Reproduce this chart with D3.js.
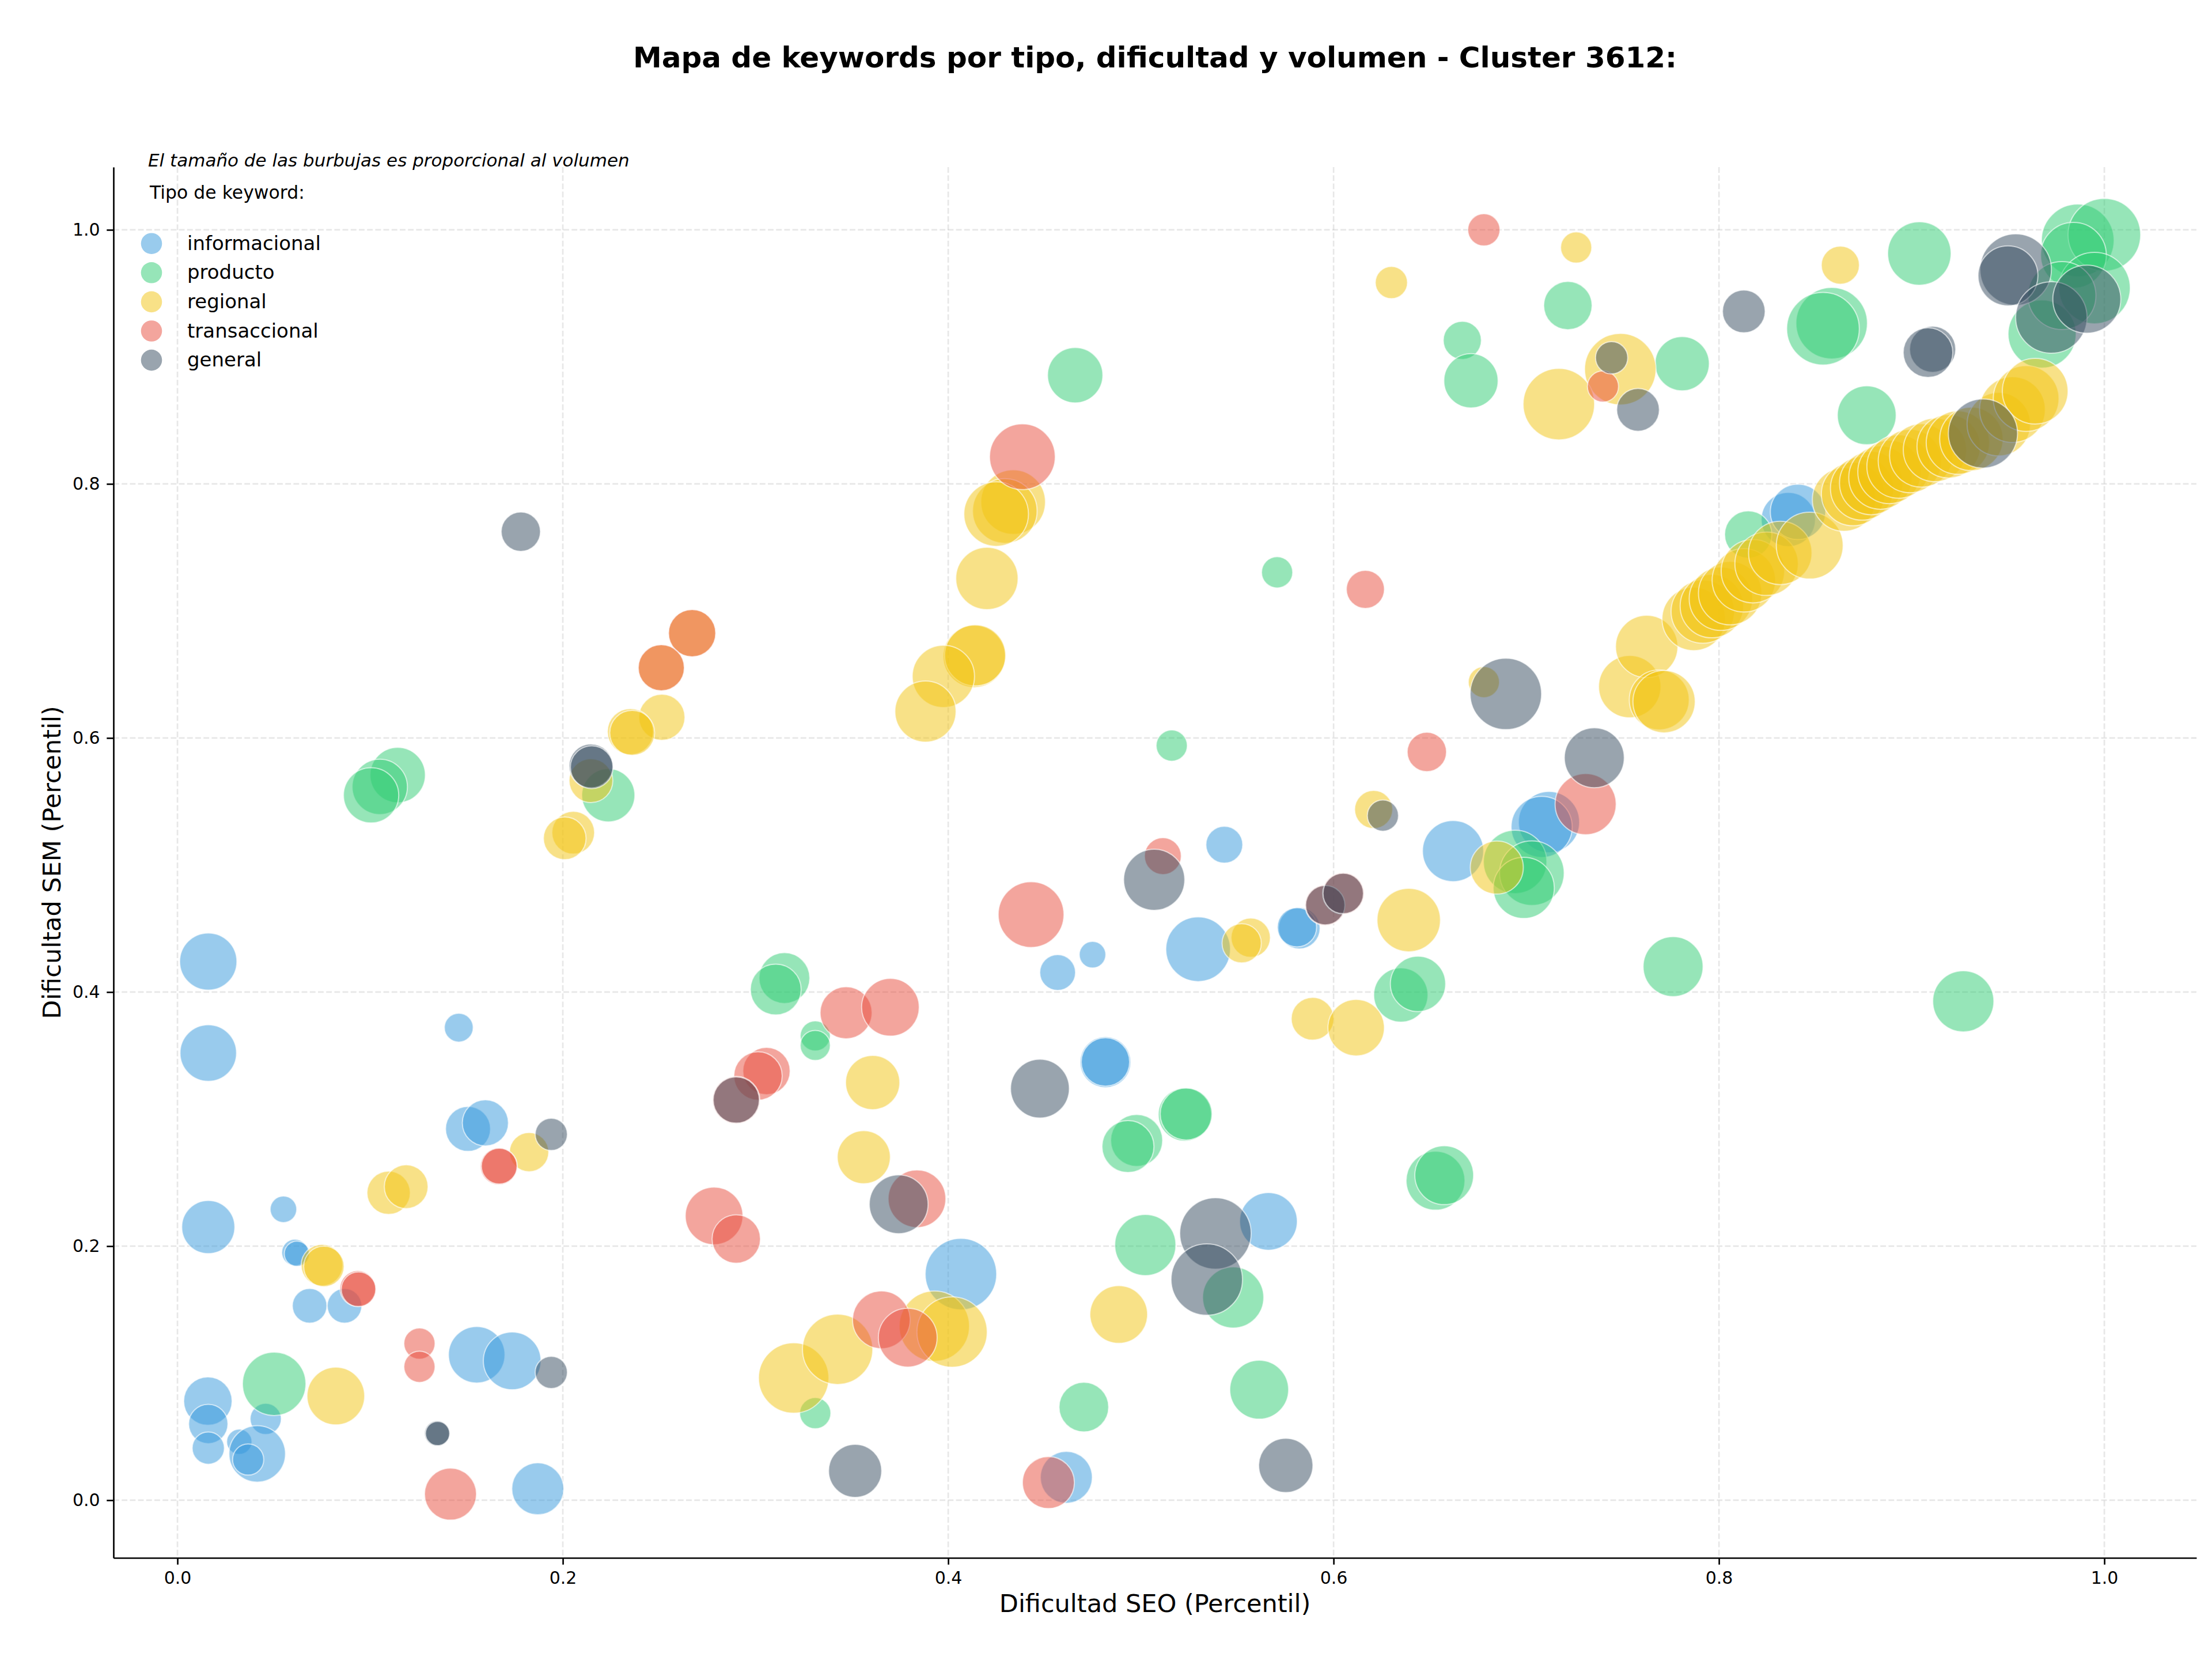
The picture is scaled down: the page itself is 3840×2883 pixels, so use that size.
<!DOCTYPE html>
<html>
<head>
<meta charset="utf-8">
<script src="https://cdn.jsdelivr.net/npm/d3@7"></script>
<style>
  body { margin: 0; background: #fff; }
  svg { display: block; font-family: "DejaVu Sans", sans-serif; }
</style>
</head>
<body>
<div id="chart"></div>
<script>
/* DATA: [dificultad SEO, dificultad SEM, volumen] */
var informacional = [
  [0.016,0.424,2460],[0.016,0.352,2400],[0.146,0.372,625],[0.016,0.215,2120],
  [0.055,0.229,530],[0.061,0.195,530],[0.062,0.194,480],[0.0686,0.153,900],
  [0.0867,0.153,900],[0.1508,0.2923,1520],[0.1598,0.297,1600],[0.1553,0.1145,2400],
  [0.1737,0.1097,2500],[0.187,0.009,2030],[0.0158,0.078,1760],[0.016,0.06,1160],
  [0.016,0.041,780],[0.0458,0.064,730],[0.0321,0.046,480],[0.0414,0.0365,2400],
  [0.0367,0.032,730],[0.5433,0.516,1020],[0.4568,0.4154,960],[0.4749,0.4294,530],
  [0.5297,0.4337,3140],[0.5822,0.4503,1300],[0.581,0.451,1160],[0.662,0.511,2810],
  [0.4816,0.3448,1940],[0.4816,0.345,1760],[0.5662,0.2195,2500],[0.4066,0.178,3840],
  [0.4613,0.018,2030],[0.7118,0.5338,2810],[0.708,0.53,2810],[0.836,0.772,2210],
  [0.841,0.778,2300]
];
var producto = [
  [0.0502,0.0916,3025],[0.315,0.411,1940],[0.3105,0.402,1940],[0.331,0.3655,680],
  [0.331,0.358,680],[0.331,0.0685,730],[0.5228,0.3036,2120],[0.5235,0.304,2030],
  [0.4978,0.2832,2030],[0.4933,0.2784,2030],[0.5023,0.2009,2810],[0.5479,0.1596,2810],
  [0.4704,0.0733,1850],[0.5614,0.087,2600],[0.6349,0.3977,2210],[0.6438,0.4064,2300],
  [0.6529,0.2515,2600],[0.6574,0.2558,2600],[0.6942,0.5025,3025],[0.7029,0.4936,3140],
  [0.6987,0.482,2810],[0.7762,0.42,2700],[0.9268,0.3927,2810],[0.2236,0.5549,2120],
  [0.1143,0.5708,2300],[0.105,0.5615,2300],[0.1005,0.5549,2300],[0.6668,0.913,1090],
  [0.6713,0.8812,2210],[0.4659,0.8856,2300],[0.5707,0.7304,730],[0.516,0.594,730],
  [0.7216,0.9404,1760],[0.7809,0.8946,2210],[0.904,0.9814,3025],[0.8585,0.9265,3840],
  [0.854,0.9222,3970],[0.8767,0.854,2600],[0.9862,0.9917,3970],[1.0,0.9961,3970],
  [0.984,0.98,3250],[0.9949,0.9542,3840],[0.9677,0.918,3480],[0.978,0.9483,3480],
  [0.8152,0.7602,1680]
];
var regional = [
  [0.075,0.185,1300],[0.076,0.184,1230],[0.1096,0.242,1410],[0.1187,0.2468,1440],
  [0.1825,0.274,1160],[0.0822,0.082,2500],[0.3198,0.0962,3720],[0.639,0.4567,3025],
  [0.6847,0.498,2120],[0.3608,0.3288,2210],[0.3562,0.27,2120],[0.4885,0.1462,2500],
  [0.3928,0.137,3720],[0.402,0.1324,3720],[0.3426,0.1188,3720],[0.557,0.4428,1160],
  [0.5523,0.4384,1160],[0.5891,0.379,1370],[0.6117,0.372,2400],[0.2671,0.6825,1680],
  [0.2511,0.6553,1600],[0.2514,0.6163,1600],[0.2351,0.605,1600],[0.236,0.604,1520],
  [0.2146,0.5664,1440],[0.2054,0.5255,1370],[0.201,0.521,1370],[0.63,0.9585,780],
  [0.4337,0.7857,3140],[0.4294,0.7787,3140],[0.4249,0.7763,3140],[0.4201,0.7256,2920],
  [0.4135,0.6642,2920],[0.414,0.665,2810],[0.3975,0.6485,2920],[0.3882,0.6208,2810],
  [0.6208,0.5437,1090],[0.678,0.644,730],[0.7259,0.9861,730],[0.7488,0.8903,3840],
  [0.7169,0.8628,3840],[0.863,0.9722,1090],
  [0.7537,0.6404,2920],[0.7625,0.672,2920],[0.769,0.63,2700],[0.7715,0.6286,2920],
  [0.7869,0.6937,3025],[0.7916,0.6995,3025],[0.7963,0.7038,3025],[0.801,0.7096,3025],
  [0.8058,0.714,3025],[0.8129,0.7241,3025],[0.8176,0.7313,3025],[0.8247,0.7371,3025],
  [0.8318,0.7457,3025],[0.8471,0.7515,3360],[0.8649,0.7877,3025],[0.8696,0.792,3025],
  [0.8743,0.7964,3025],[0.879,0.8007,3025],[0.8838,0.805,3025],[0.8885,0.8094,3025],
  [0.8932,0.8137,3025],[0.8991,0.818,3025],[0.905,0.8224,3025],[0.9121,0.8267,3025],
  [0.9192,0.8296,3025],[0.924,0.8325,3025],[0.931,0.8354,3025],[0.9452,0.847,3025],
  [0.9523,0.8585,3250],[0.9594,0.8672,3250],[0.9641,0.873,3250]
];
var transaccional = [
  [0.0936,0.1666,960],[0.094,0.166,900],[0.1668,0.2628,1020],[0.167,0.263,960],
  [0.1256,0.1233,730],[0.1256,0.105,730],[0.1417,0.0048,2030],[0.3057,0.3378,1680],
  [0.3013,0.334,1760],[0.29,0.315,1680],[0.2785,0.2238,2500],[0.29,0.2056,1760],
  [0.5114,0.507,1020],[0.443,0.461,3250],[0.5957,0.4684,1230],[0.605,0.4776,1300],
  [0.347,0.3837,2030],[0.37,0.388,2500],[0.3838,0.2373,2500],[0.3653,0.142,2500],
  [0.379,0.128,2600],[0.452,0.0139,2030],[0.7308,0.5479,2810],[0.2671,0.6825,1680],
  [0.2511,0.6553,1600],[0.678,1.0,780],[0.4385,0.8214,3250],[0.6165,0.717,1090],
  [0.6484,0.589,1160],[0.7398,0.8767,730]
];
var general = [
  [0.194,0.288,780],[0.194,0.1006,780],[0.1348,0.0526,480],[0.135,0.0525,440],
  [0.29,0.315,1600],[0.5069,0.4884,2810],[0.5957,0.4684,1160],[0.605,0.4776,1230],
  [0.3743,0.233,2600],[0.4476,0.324,2600],[0.5387,0.21,3840],[0.5342,0.1737,3840],
  [0.3517,0.0231,2120],[0.5752,0.0274,2210],[0.6894,0.6347,3840],[0.7353,0.5844,2700],
  [0.1782,0.7624,1160],[0.2146,0.578,1440],[0.215,0.577,1370],[0.6256,0.5389,730],
  [0.7443,0.8993,780],[0.758,0.8583,1370],[0.8129,0.9358,1370],[0.9109,0.906,1600],
  [0.9085,0.9034,1850],[0.954,0.9687,3840],[0.95,0.9638,2700],[0.9725,0.931,3840],
  [0.9909,0.9454,3480],[0.937,0.8397,3600]
];

var tipos = ['informacional', 'producto', 'regional', 'transaccional', 'general'];
var colores = ['#3498db', '#2ecc71', '#f1c40f', '#e74c3c', '#34495e'];
var series = [informacional, producto, regional, transaccional, general];
var ticks = [0.0, 0.2, 0.4, 0.6, 0.8, 1.0];

var title = 'Mapa de keywords por tipo, dificultad y volumen - Cluster 3612:';

/* LAYOUT */
var W = 3840, H = 2883;
var margin = { top: 290, right: 27, bottom: 179, left: 197 };
var plotW = W - margin.left - margin.right,
    plotH = H - margin.top - margin.bottom;

var svg = d3.select('#chart').append('svg')
    .attr('width', W)
    .attr('height', H);

svg.append('rect').attr('width', W).attr('height', H).attr('fill', '#fff');

var g = svg.append('g')
    .attr('transform', 'translate(' + margin.left + ',' + margin.top + ')');

var x = d3.scaleLinear().domain([-0.0332, 1.0478]).range([0, plotW]);
var y = d3.scaleLinear().domain([-0.0454, 1.0494]).range([plotH, 0]);
var r = d3.scaleSqrt().domain([0, 4000]).range([0, Math.sqrt(4000)]);

// grid
g.append('g').selectAll('line.gx')
    .data(ticks).enter().append('line')
    .attr('x1', function(d) { return x(d); })
    .attr('x2', function(d) { return x(d); })
    .attr('y1', 0).attr('y2', plotH)
    .attr('stroke', '#b0b0b0').attr('stroke-opacity', 0.3)
    .attr('stroke-width', 2.67).attr('stroke-dasharray', '9.9,4.3');

g.append('g').selectAll('line.gy')
    .data(ticks).enter().append('line')
    .attr('y1', function(d) { return y(d); })
    .attr('y2', function(d) { return y(d); })
    .attr('x1', 0).attr('x2', plotW)
    .attr('stroke', '#b0b0b0').attr('stroke-opacity', 0.3)
    .attr('stroke-width', 2.67).attr('stroke-dasharray', '9.9,4.3');

// bubbles, one layer per tipo
series.forEach(function(data, i) {
    g.append('g').attr('class', 'serie')
        .selectAll('circle')
        .data(data).enter().append('circle')
        .attr('cx', function(d) { return x(d[0]); })
        .attr('cy', function(d) { return y(d[1]); })
        .attr('r', function(d) { return r(d[2]); })
        .attr('fill', colores[i])
        .attr('fill-opacity', 0.5)
        .attr('stroke', '#fff')
        .attr('stroke-opacity', 0.6)
        .attr('stroke-width', 2);
});

// axes
var xAxis = g.append('g')
    .attr('transform', 'translate(0,' + plotH + ')')
    .call(d3.axisBottom(x).tickValues(ticks).tickFormat(d3.format('.1f'))
        .tickSize(11.7).tickSizeOuter(0).tickPadding(11.7));

var yAxis = g.append('g')
    .call(d3.axisLeft(y).tickValues(ticks).tickFormat(d3.format('.1f'))
        .tickSize(11.7).tickSizeOuter(0).tickPadding(11.7));

[xAxis, yAxis].forEach(function(a) {
    a.attr('font-family', '"DejaVu Sans", sans-serif').attr('font-size', 30);
    a.select('.domain').attr('stroke', '#000').attr('stroke-width', 2.67);
    a.selectAll('.tick line').attr('stroke', '#000').attr('stroke-width', 2.67);
    a.selectAll('.tick text').attr('fill', '#000');
});

// labels
svg.append('text')
    .attr('x', margin.left + plotW / 2).attr('y', 2798)
    .attr('text-anchor', 'middle')
    .attr('font-size', 43)
    .text('Dificultad SEO (Percentil)');

svg.append('text')
    .attr('transform', 'translate(105,' + (margin.top + plotH / 2) + ') rotate(-90)')
    .attr('text-anchor', 'middle')
    .attr('font-size', 43)
    .text('Dificultad SEM (Percentil)');

svg.append('text')
    .attr('x', margin.left + plotW / 2).attr('y', 117)
    .attr('text-anchor', 'middle')
    .attr('font-size', 50)
    .attr('font-weight', 'bold')
    .text(title);

// legend
svg.append('text')
    .attr('x', 257).attr('y', 289)
    .attr('font-size', 31)
    .attr('font-style', 'italic')
    .text('El tamaño de las burbujas es proporcional al volumen');

svg.append('text')
    .attr('x', 260).attr('y', 345)
    .attr('font-size', 31.5)
    .text('Tipo de keyword:');

var legend = svg.selectAll('g.legendg')
    .data(tipos).enter().append('g')
    .attr('class', 'legendg')
    .attr('transform', function(d, i) { return 'translate(263,' + (422.7 + i * 50.6) + ')'; });

legend.append('circle')
    .attr('r', 18.3)
    .attr('fill', function(d, i) { return colores[i]; })
    .attr('fill-opacity', 0.5);

legend.append('text')
    .attr('x', 62).attr('y', 11)
    .attr('font-size', 34)
    .text(function(d) { return d; });
</script>
</body>
</html>
